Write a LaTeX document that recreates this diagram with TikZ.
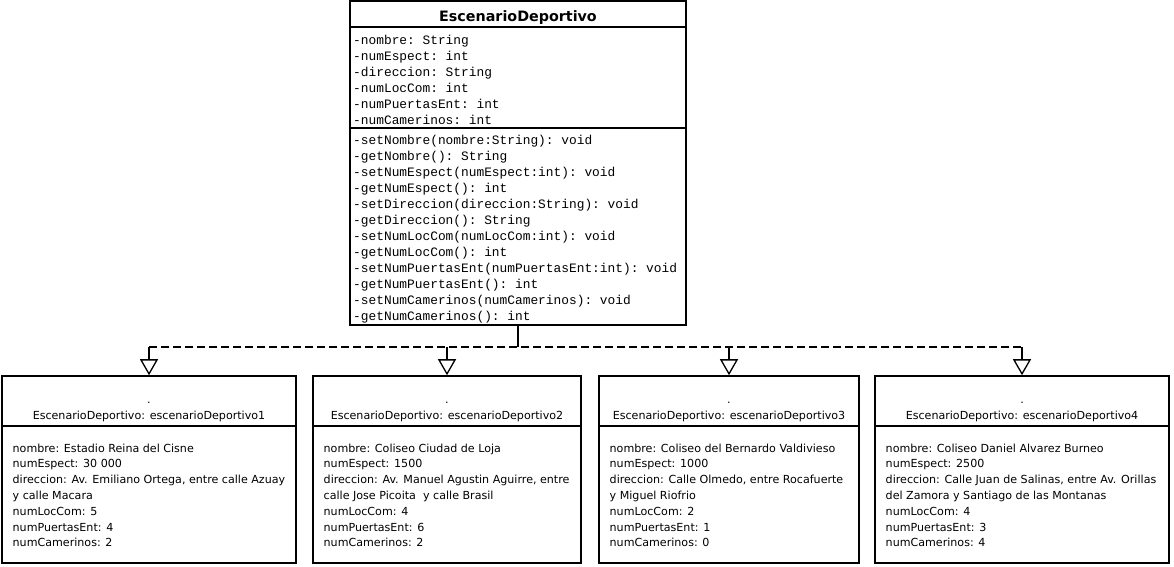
\documentclass[tikz,border=0pt]{standalone}
\usepackage{fontspec}
\setmainfont{DejaVu Sans}
\setmonofont{Liberation Mono}
\usetikzlibrary{arrows.meta,positioning}
\tikzset{umlbox/.style={draw,line width=1.6pt,inner sep=0pt},
  member/.style={anchor=base west,inner sep=0pt,font=\fontsize{12.85}{16}\selectfont\ttfamily},
  slot/.style={anchor=base west,inner sep=0pt,font=\fontsize{11.1}{16}\selectfont},
  real/.style={-{Triangle[open,length=16pt,width=18pt]},line width=1.3pt}}
\begin{document}
\begin{tikzpicture}[x=1pt,y=-1pt]
\fill[white] (0,0) rectangle (1174,566);
\useasboundingbox (0,0) rectangle (1174,566);
% class box: name, attributes, methods
\node[umlbox,minimum width=336,minimum height=324] (cls) at (518,163) {};
\draw[line width=1.6pt] ([yshift=-27pt]cls.north west) -- ([yshift=-27pt]cls.north east);
\draw[line width=1.6pt] ([yshift=-128pt]cls.north west) -- ([yshift=-128pt]cls.north east);
\node[anchor=base,inner sep=0pt,font=\fontsize{14.3}{16}\selectfont\bfseries] (clsname) at (518,21) {EscenarioDeportivo};
\foreach \t [count=\k] in {-nombre: String,-numEspect: int,-direccion: String,-numLocCom: int,
  -numPuertasEnt: int,-numCamerinos: int}
  \node[member] (a\k) at (353,{44+16*(\k-1)}) {\t};
\foreach \t [count=\k] in {-setNombre(nombre:String): void,-getNombre(): String,
  -setNumEspect(numEspect:int): void,-getNumEspect(): int,
  -setDireccion(direccion:String): void,-getDireccion(): String,
  -setNumLocCom(numLocCom:int): void,-getNumLocCom(): int,
  -setNumPuertasEnt(numPuertasEnt:int): void,-getNumPuertasEnt(): int,
  -setNumCamerinos(numCamerinos): void,-getNumCamerinos(): int}
  \node[member] (m\k) at (353,{144+16*(\k-1)}) {\t};
% object boxes
\foreach \i/\xl/\xr/\body in {
  1/2/296/{{nombre: Estadio Reina del Cisne},{numEspect: 30 000},{direccion: Av. Emiliano Ortega, entre calle Azuay},{y calle Macara},{numLocCom: 5},{numPuertasEnt: 4},{numCamerinos: 2}},
  2/313/581/{{nombre: Coliseo Ciudad de Loja},{numEspect: 1500},{direccion: Av. Manuel Agustin Aguirre, entre},{calle Jose Picoita\ \ y calle Brasil},{numLocCom: 4},{numPuertasEnt: 6},{numCamerinos: 2}},
  3/599/859/{{nombre: Coliseo del Bernardo Valdivieso},{numEspect: 1000},{direccion: Calle Olmedo, entre Rocafuerte},{y Miguel Riofrio},{numLocCom: 2},{numPuertasEnt: 1},{numCamerinos: 0}},
  4/875/1169/{{nombre: Coliseo Daniel Alvarez Burneo},{numEspect: 2500},{direccion: Calle Juan de Salinas, entre Av. Orillas},{del Zamora y Santiago de las Montanas},{numLocCom: 4},{numPuertasEnt: 3},{numCamerinos: 4}}}{
  \pgfmathsetmacro\cx{(\xl+\xr)/2}
  \node[umlbox,minimum width={\xr-\xl},minimum height=187] (o\i) at (\cx,469.5) {};
  \draw[line width=1.6pt] ([yshift=-51pt]o\i.north west) -- ([yshift=-51pt]o\i.north east);
  \node[slot,anchor=base] (d\i) at (\cx,403) {.};
  \node[slot,anchor=base] (t\i) at (\cx,419) {EscenarioDeportivo: escenarioDeportivo\i};
  \foreach \t [count=\k] in \body
    \node[slot] (o\i-\k) at ({\xl+10.5},{452+15.8*(\k-1)}) {\t};
}
% realizations
\coordinate (bus) at (518,347);
\draw[line width=1.6pt] (cls.south) -- (bus);
\draw[line width=1.6pt,dash pattern=on 8pt off 4pt] (o1.north |- bus) -- (o4.north |- bus);
\foreach \i in {1,...,4}
  \draw[real] (o\i.north |- bus) -- (o\i.north);
\end{tikzpicture}
\end{document}
